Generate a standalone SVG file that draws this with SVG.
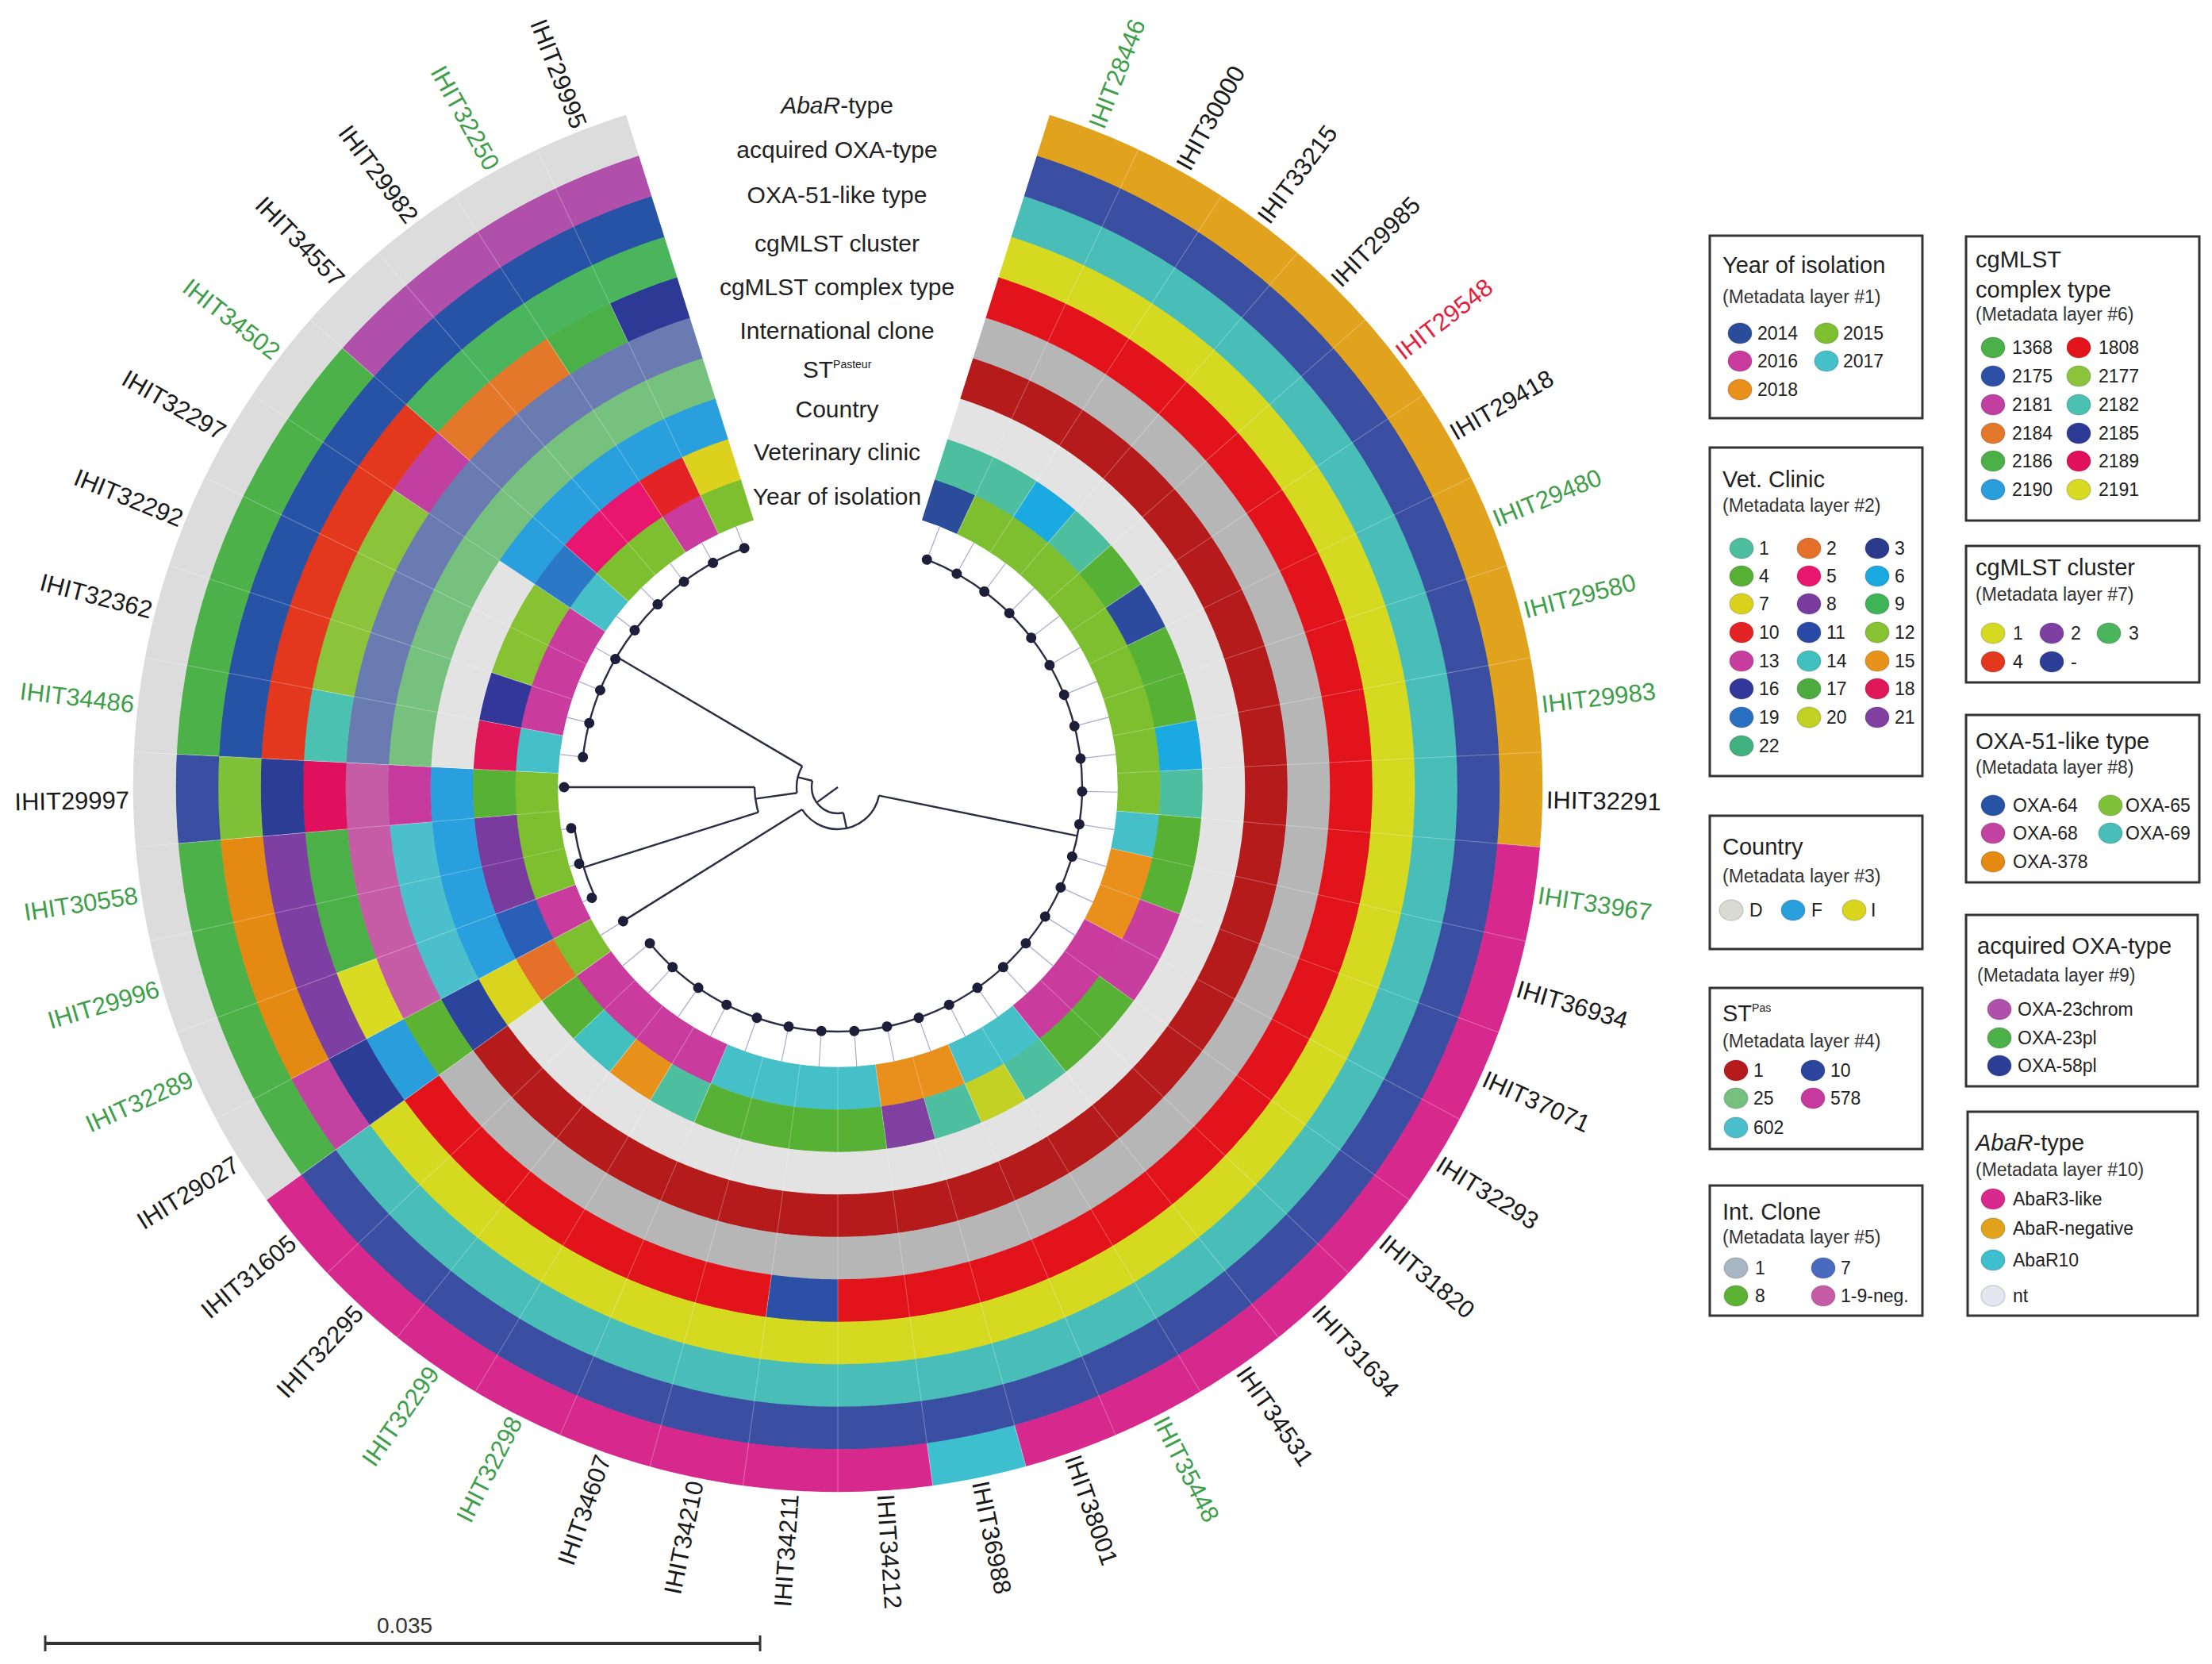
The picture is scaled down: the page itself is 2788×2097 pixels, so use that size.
<svg xmlns="http://www.w3.org/2000/svg" width="2788" height="2097" viewBox="0 0 2788 2097">
<style>
text{font-family:"Liberation Sans",Arial,sans-serif}
.ring circle{fill:none;stroke-width:54}
.sep line{stroke:#fff;stroke-opacity:.3;stroke-width:1}
.tr{fill:none;stroke:#2B2D45;stroke-width:2.4}
.lf line{stroke:#A9A9CF;stroke-width:1.2}
.lf circle{fill:#1D1E3A}
.lab text{font-size:31px;fill:#1A1A1A}
.lab text.g{fill:#3E9E4A}
.lab text.r{fill:#E3213D}
.lab text.e{text-anchor:end}
.ll{font-size:30px;fill:#222;text-anchor:middle}
.box{fill:#fff;stroke:#333;stroke-width:3}
.lt{font-size:29px;fill:#222}
.ls{font-size:23px;fill:#333}
.li{font-size:23px;fill:#222}
.lg ellipse{stroke:#000;stroke-opacity:.15;stroke-width:1.5}
</style>
<rect width="2788" height="2097" fill="#fff"/>

<g id="rings" class="ring" transform="translate(1056 992) rotate(-90)">
<g id="ring-year">
<circle r="379.75" pathLength="360" stroke="#2B4C9B" stroke-dasharray="7.74 720" stroke-dashoffset="-17.5"/>
<circle r="379.75" pathLength="360" stroke="#7DBF2F" stroke-dasharray="69.64 720" stroke-dashoffset="-25.24"/>
<circle r="379.75" pathLength="360" stroke="#45C0C8" stroke-dasharray="7.74 720" stroke-dashoffset="-94.88"/>
<circle r="379.75" pathLength="360" stroke="#E88F1C" stroke-dasharray="15.48 720" stroke-dashoffset="-102.62"/>
<circle r="379.75" pathLength="360" stroke="#C93C9E" stroke-dasharray="23.21 720" stroke-dashoffset="-118.1"/>
<circle r="379.75" pathLength="360" stroke="#45C0C8" stroke-dasharray="15.48 720" stroke-dashoffset="-141.31"/>
<circle r="379.75" pathLength="360" stroke="#E88F1C" stroke-dasharray="15.48 720" stroke-dashoffset="-156.79"/>
<circle r="379.75" pathLength="360" stroke="#45C0C8" stroke-dasharray="30.95 720" stroke-dashoffset="-172.26"/>
<circle r="379.75" pathLength="360" stroke="#C93C9E" stroke-dasharray="30.95 720" stroke-dashoffset="-203.21"/>
<circle r="379.75" pathLength="360" stroke="#7DBF2F" stroke-dasharray="7.74 720" stroke-dashoffset="-234.17"/>
<circle r="379.75" pathLength="360" stroke="#C93C9E" stroke-dasharray="7.74 720" stroke-dashoffset="-241.9"/>
<circle r="379.75" pathLength="360" stroke="#7DBF2F" stroke-dasharray="23.21 720" stroke-dashoffset="-249.64"/>
<circle r="379.75" pathLength="360" stroke="#45C0C8" stroke-dasharray="7.74 720" stroke-dashoffset="-272.86"/>
<circle r="379.75" pathLength="360" stroke="#C93C9E" stroke-dasharray="23.21 720" stroke-dashoffset="-280.6"/>
<circle r="379.75" pathLength="360" stroke="#45C0C8" stroke-dasharray="7.74 720" stroke-dashoffset="-303.81"/>
<circle r="379.75" pathLength="360" stroke="#7DBF2F" stroke-dasharray="15.48 720" stroke-dashoffset="-311.55"/>
<circle r="379.75" pathLength="360" stroke="#C93C9E" stroke-dasharray="7.74 720" stroke-dashoffset="-327.02"/>
<circle r="379.75" pathLength="360" stroke="#7DBF2F" stroke-dasharray="7.74 720" stroke-dashoffset="-334.76"/>
</g>
<g id="ring-vet">
<circle r="433.25" pathLength="360" stroke="#4DBE9E" stroke-dasharray="15.48 720" stroke-dashoffset="-17.5"/>
<circle r="433.25" pathLength="360" stroke="#1BA9E2" stroke-dasharray="7.74 720" stroke-dashoffset="-32.98"/>
<circle r="433.25" pathLength="360" stroke="#4DBE9E" stroke-dasharray="7.74 720" stroke-dashoffset="-40.71"/>
<circle r="433.25" pathLength="360" stroke="#56B134" stroke-dasharray="7.74 720" stroke-dashoffset="-48.45"/>
<circle r="433.25" pathLength="360" stroke="#2C4A9E" stroke-dasharray="7.74 720" stroke-dashoffset="-56.19"/>
<circle r="433.25" pathLength="360" stroke="#56B134" stroke-dasharray="15.48 720" stroke-dashoffset="-63.93"/>
<circle r="433.25" pathLength="360" stroke="#1BA9E2" stroke-dasharray="7.74 720" stroke-dashoffset="-79.4"/>
<circle r="433.25" pathLength="360" stroke="#4DBE9E" stroke-dasharray="7.74 720" stroke-dashoffset="-87.14"/>
<circle r="433.25" pathLength="360" stroke="#56B134" stroke-dasharray="15.48 720" stroke-dashoffset="-94.88"/>
<circle r="433.25" pathLength="360" stroke="#C73E9E" stroke-dasharray="15.48 720" stroke-dashoffset="-110.36"/>
<circle r="433.25" pathLength="360" stroke="#56B134" stroke-dasharray="15.48 720" stroke-dashoffset="-125.83"/>
<circle r="433.25" pathLength="360" stroke="#4DBE9E" stroke-dasharray="7.74 720" stroke-dashoffset="-141.31"/>
<circle r="433.25" pathLength="360" stroke="#C2D123" stroke-dasharray="7.74 720" stroke-dashoffset="-149.05"/>
<circle r="433.25" pathLength="360" stroke="#4DBE9E" stroke-dasharray="7.74 720" stroke-dashoffset="-156.79"/>
<circle r="433.25" pathLength="360" stroke="#8040A0" stroke-dasharray="7.74 720" stroke-dashoffset="-164.52"/>
<circle r="433.25" pathLength="360" stroke="#56B134" stroke-dasharray="30.95 720" stroke-dashoffset="-172.26"/>
<circle r="433.25" pathLength="360" stroke="#4DBE9E" stroke-dasharray="7.74 720" stroke-dashoffset="-203.21"/>
<circle r="433.25" pathLength="360" stroke="#E8921C" stroke-dasharray="7.74 720" stroke-dashoffset="-210.95"/>
<circle r="433.25" pathLength="360" stroke="#42C0C0" stroke-dasharray="7.74 720" stroke-dashoffset="-218.69"/>
<circle r="433.25" pathLength="360" stroke="#56B134" stroke-dasharray="7.74 720" stroke-dashoffset="-226.43"/>
<circle r="433.25" pathLength="360" stroke="#E4702A" stroke-dasharray="7.74 720" stroke-dashoffset="-234.17"/>
<circle r="433.25" pathLength="360" stroke="#2A5FB8" stroke-dasharray="7.74 720" stroke-dashoffset="-241.9"/>
<circle r="433.25" pathLength="360" stroke="#7A3B9F" stroke-dasharray="15.48 720" stroke-dashoffset="-249.64"/>
<circle r="433.25" pathLength="360" stroke="#56B134" stroke-dasharray="7.74 720" stroke-dashoffset="-265.12"/>
<circle r="433.25" pathLength="360" stroke="#E0185A" stroke-dasharray="7.74 720" stroke-dashoffset="-272.86"/>
<circle r="433.25" pathLength="360" stroke="#33379A" stroke-dasharray="7.74 720" stroke-dashoffset="-280.6"/>
<circle r="433.25" pathLength="360" stroke="#86C232" stroke-dasharray="15.48 720" stroke-dashoffset="-288.33"/>
<circle r="433.25" pathLength="360" stroke="#2A78C6" stroke-dasharray="7.74 720" stroke-dashoffset="-303.81"/>
<circle r="433.25" pathLength="360" stroke="#E8166E" stroke-dasharray="15.48 720" stroke-dashoffset="-311.55"/>
<circle r="433.25" pathLength="360" stroke="#E42424" stroke-dasharray="7.74 720" stroke-dashoffset="-327.02"/>
<circle r="433.25" pathLength="360" stroke="#DCD21E" stroke-dasharray="7.74 720" stroke-dashoffset="-334.76"/>
</g>
<g id="ring-country">
<circle r="486.75" pathLength="360" stroke="#E3E3E3" stroke-dasharray="216.67 720" stroke-dashoffset="-17.5"/>
<circle r="486.75" pathLength="360" stroke="#D9D51F" stroke-dasharray="7.74 720" stroke-dashoffset="-234.17"/>
<circle r="486.75" pathLength="360" stroke="#2A9FDD" stroke-dasharray="30.95 720" stroke-dashoffset="-241.9"/>
<circle r="486.75" pathLength="360" stroke="#E3E3E3" stroke-dasharray="30.95 720" stroke-dashoffset="-272.86"/>
<circle r="486.75" pathLength="360" stroke="#2A9FDD" stroke-dasharray="38.69 720" stroke-dashoffset="-303.81"/>
</g>
<g id="ring-st">
<circle r="540.25" pathLength="360" stroke="#B51B1B" stroke-dasharray="216.67 720" stroke-dashoffset="-17.5"/>
<circle r="540.25" pathLength="360" stroke="#2A459B" stroke-dasharray="7.74 720" stroke-dashoffset="-234.17"/>
<circle r="540.25" pathLength="360" stroke="#4BBFCB" stroke-dasharray="23.21 720" stroke-dashoffset="-241.9"/>
<circle r="540.25" pathLength="360" stroke="#C63A9D" stroke-dasharray="7.74 720" stroke-dashoffset="-265.12"/>
<circle r="540.25" pathLength="360" stroke="#76C17E" stroke-dasharray="69.64 720" stroke-dashoffset="-272.86"/>
</g>
<g id="ring-ic">
<circle r="593.75" pathLength="360" stroke="#B6B6B6" stroke-dasharray="216.67 720" stroke-dashoffset="-17.5"/>
<circle r="593.75" pathLength="360" stroke="#5BB233" stroke-dasharray="7.74 720" stroke-dashoffset="-234.17"/>
<circle r="593.75" pathLength="360" stroke="#C65CA6" stroke-dasharray="30.95 720" stroke-dashoffset="-241.9"/>
<circle r="593.75" pathLength="360" stroke="#6A7BB2" stroke-dasharray="69.64 720" stroke-dashoffset="-272.86"/>
</g>
<g id="ring-complex">
<circle r="647.25" pathLength="360" stroke="#E3131B" stroke-dasharray="162.5 720" stroke-dashoffset="-17.5"/>
<circle r="647.25" pathLength="360" stroke="#2B50A6" stroke-dasharray="7.74 720" stroke-dashoffset="-180"/>
<circle r="647.25" pathLength="360" stroke="#E3131B" stroke-dasharray="46.43 720" stroke-dashoffset="-187.74"/>
<circle r="647.25" pathLength="360" stroke="#2A9EDB" stroke-dasharray="7.74 720" stroke-dashoffset="-234.17"/>
<circle r="647.25" pathLength="360" stroke="#D8DB22" stroke-dasharray="7.74 720" stroke-dashoffset="-241.9"/>
<circle r="647.25" pathLength="360" stroke="#4CB048" stroke-dasharray="15.48 720" stroke-dashoffset="-249.64"/>
<circle r="647.25" pathLength="360" stroke="#E0105C" stroke-dasharray="7.74 720" stroke-dashoffset="-265.12"/>
<circle r="647.25" pathLength="360" stroke="#4BC1B1" stroke-dasharray="7.74 720" stroke-dashoffset="-272.86"/>
<circle r="647.25" pathLength="360" stroke="#8BC33A" stroke-dasharray="23.21 720" stroke-dashoffset="-280.6"/>
<circle r="647.25" pathLength="360" stroke="#C13FA0" stroke-dasharray="7.74 720" stroke-dashoffset="-303.81"/>
<circle r="647.25" pathLength="360" stroke="#E4782A" stroke-dasharray="15.48 720" stroke-dashoffset="-311.55"/>
<circle r="647.25" pathLength="360" stroke="#4CB048" stroke-dasharray="7.74 720" stroke-dashoffset="-327.02"/>
<circle r="647.25" pathLength="360" stroke="#2C3A96" stroke-dasharray="7.74 720" stroke-dashoffset="-334.76"/>
</g>
<g id="ring-cluster">
<circle r="700.75" pathLength="360" stroke="#D5D91F" stroke-dasharray="216.67 720" stroke-dashoffset="-17.5"/>
<circle r="700.75" pathLength="360" stroke="#2C3D96" stroke-dasharray="7.74 720" stroke-dashoffset="-234.17"/>
<circle r="700.75" pathLength="360" stroke="#7E3FA3" stroke-dasharray="23.21 720" stroke-dashoffset="-241.9"/>
<circle r="700.75" pathLength="360" stroke="#2C3D96" stroke-dasharray="7.74 720" stroke-dashoffset="-265.12"/>
<circle r="700.75" pathLength="360" stroke="#E4381E" stroke-dasharray="38.69 720" stroke-dashoffset="-272.86"/>
<circle r="700.75" pathLength="360" stroke="#4AB55C" stroke-dasharray="30.95 720" stroke-dashoffset="-311.55"/>
</g>
<g id="ring-oxa51">
<circle r="754.25" pathLength="360" stroke="#49BEB8" stroke-dasharray="216.67 720" stroke-dashoffset="-17.5"/>
<circle r="754.25" pathLength="360" stroke="#C142A1" stroke-dasharray="7.74 720" stroke-dashoffset="-234.17"/>
<circle r="754.25" pathLength="360" stroke="#E48A12" stroke-dasharray="23.21 720" stroke-dashoffset="-241.9"/>
<circle r="754.25" pathLength="360" stroke="#80C13A" stroke-dasharray="7.74 720" stroke-dashoffset="-265.12"/>
<circle r="754.25" pathLength="360" stroke="#2753A6" stroke-dasharray="69.64 720" stroke-dashoffset="-272.86"/>
</g>
<g id="ring-acq">
<circle r="807.75" pathLength="360" stroke="#3A4FA1" stroke-dasharray="216.67 720" stroke-dashoffset="-17.5"/>
<circle r="807.75" pathLength="360" stroke="#4DB14A" stroke-dasharray="30.95 720" stroke-dashoffset="-234.17"/>
<circle r="807.75" pathLength="360" stroke="#3A4FA1" stroke-dasharray="7.74 720" stroke-dashoffset="-265.12"/>
<circle r="807.75" pathLength="360" stroke="#4DB14A" stroke-dasharray="38.69 720" stroke-dashoffset="-272.86"/>
<circle r="807.75" pathLength="360" stroke="#B050AA" stroke-dasharray="30.95 720" stroke-dashoffset="-311.55"/>
</g>
<g id="ring-abar">
<circle r="861.25" pathLength="360" stroke="#E1A21D" stroke-dasharray="77.38 720" stroke-dashoffset="-17.5"/>
<circle r="861.25" pathLength="360" stroke="#D7298D" stroke-dasharray="69.64 720" stroke-dashoffset="-94.88"/>
<circle r="861.25" pathLength="360" stroke="#3DBFD0" stroke-dasharray="7.74 720" stroke-dashoffset="-164.52"/>
<circle r="861.25" pathLength="360" stroke="#D7298D" stroke-dasharray="61.9 720" stroke-dashoffset="-172.26"/>
<circle r="861.25" pathLength="360" stroke="#DCDCDC" stroke-dasharray="108.33 720" stroke-dashoffset="-234.17"/>
</g>
<g class="sep">
<line x1="353" x2="888" transform="rotate(25.24)"/><line x1="353" x2="888" transform="rotate(32.98)"/><line x1="353" x2="888" transform="rotate(40.71)"/><line x1="353" x2="888" transform="rotate(48.45)"/><line x1="353" x2="888" transform="rotate(56.19)"/><line x1="353" x2="888" transform="rotate(63.93)"/><line x1="353" x2="888" transform="rotate(71.67)"/><line x1="353" x2="888" transform="rotate(79.4)"/><line x1="353" x2="888" transform="rotate(87.14)"/><line x1="353" x2="888" transform="rotate(94.88)"/><line x1="353" x2="888" transform="rotate(102.62)"/><line x1="353" x2="888" transform="rotate(110.36)"/><line x1="353" x2="888" transform="rotate(118.1)"/><line x1="353" x2="888" transform="rotate(125.83)"/><line x1="353" x2="888" transform="rotate(133.57)"/><line x1="353" x2="888" transform="rotate(141.31)"/><line x1="353" x2="888" transform="rotate(149.05)"/><line x1="353" x2="888" transform="rotate(156.79)"/><line x1="353" x2="888" transform="rotate(164.52)"/><line x1="353" x2="888" transform="rotate(172.26)"/><line x1="353" x2="888" transform="rotate(180)"/><line x1="353" x2="888" transform="rotate(187.74)"/><line x1="353" x2="888" transform="rotate(195.48)"/><line x1="353" x2="888" transform="rotate(203.21)"/><line x1="353" x2="888" transform="rotate(210.95)"/><line x1="353" x2="888" transform="rotate(218.69)"/><line x1="353" x2="888" transform="rotate(226.43)"/><line x1="353" x2="888" transform="rotate(234.17)"/><line x1="353" x2="888" transform="rotate(241.9)"/><line x1="353" x2="888" transform="rotate(249.64)"/><line x1="353" x2="888" transform="rotate(257.38)"/><line x1="353" x2="888" transform="rotate(265.12)"/><line x1="353" x2="888" transform="rotate(272.86)"/><line x1="353" x2="888" transform="rotate(280.6)"/><line x1="353" x2="888" transform="rotate(288.33)"/><line x1="353" x2="888" transform="rotate(296.07)"/><line x1="353" x2="888" transform="rotate(303.81)"/><line x1="353" x2="888" transform="rotate(311.55)"/><line x1="353" x2="888" transform="rotate(319.29)"/><line x1="353" x2="888" transform="rotate(327.02)"/><line x1="353" x2="888" transform="rotate(334.76)"/>
</g>
</g>

<g id="tree" transform="translate(1056 992) rotate(-90)">
<g class="tr">
<circle r="308" pathLength="360" stroke-dasharray="208.93 720" stroke-dashoffset="-21.37"/>
<circle r="323.5" pathLength="360" stroke-dasharray="61.9 720" stroke-dashoffset="-276.73"/>
<circle r="336" pathLength="360" stroke-dasharray="15.48 720" stroke-dashoffset="-245.77"/>
<circle r="105" pathLength="360" stroke-dasharray="17.5 720" stroke-dashoffset="-252.5"/>
<circle r="53" pathLength="360" stroke-dasharray="136.5 720" stroke-dashoffset="-101.5"/>
<circle r="52" pathLength="360" stroke-dasharray="38.5 720" stroke-dashoffset="-262"/>
<circle r="33" pathLength="360" stroke-dasharray="116 720" stroke-dashoffset="-168"/>
<line x1="53" x2="308" transform="rotate(101.5)"/>
<line x1="52" x2="323.5" transform="rotate(300.5)"/>
<line x1="105" x2="345" transform="rotate(270)"/>
<line x1="105" x2="336" transform="rotate(252.5)"/>
<line x1="52" x2="105" transform="rotate(262)"/>
<line x1="53" x2="319" transform="rotate(238.036)"/>
<line x1="0" x2="33" transform="rotate(234)"/>
<line x1="33" x2="53" transform="rotate(168)"/>
<line x1="33" x2="52" transform="rotate(284)"/>
<line x1="336" x2="340" transform="rotate(245.774)"/>
<line x1="336" x2="340" transform="rotate(253.512)"/>
<line x1="336" x2="340" transform="rotate(261.25)"/>
<line x1="345" x2="345" transform="rotate(270)"/>
</g>
<g class="lf">
<g transform="rotate(21.369)"><line x1="308" x2="353"/><circle cx="308" r="6.5"/></g>
<g transform="rotate(29.107)"><line x1="308" x2="353"/><circle cx="308" r="6.5"/></g>
<g transform="rotate(36.845)"><line x1="308" x2="353"/><circle cx="308" r="6.5"/></g>
<g transform="rotate(44.583)"><line x1="308" x2="353"/><circle cx="308" r="6.5"/></g>
<g transform="rotate(52.321)"><line x1="308" x2="353"/><circle cx="308" r="6.5"/></g>
<g transform="rotate(60.06)"><line x1="308" x2="353"/><circle cx="308" r="6.5"/></g>
<g transform="rotate(67.798)"><line x1="308" x2="353"/><circle cx="308" r="6.5"/></g>
<g transform="rotate(75.536)"><line x1="308" x2="353"/><circle cx="308" r="6.5"/></g>
<g transform="rotate(83.274)"><line x1="308" x2="353"/><circle cx="308" r="6.5"/></g>
<g transform="rotate(91.012)"><line x1="308" x2="353"/><circle cx="308" r="6.5"/></g>
<g transform="rotate(98.75)"><line x1="308" x2="353"/><circle cx="308" r="6.5"/></g>
<g transform="rotate(106.488)"><line x1="308" x2="353"/><circle cx="308" r="6.5"/></g>
<g transform="rotate(114.226)"><line x1="308" x2="353"/><circle cx="308" r="6.5"/></g>
<g transform="rotate(121.964)"><line x1="308" x2="353"/><circle cx="308" r="6.5"/></g>
<g transform="rotate(129.702)"><line x1="308" x2="353"/><circle cx="308" r="6.5"/></g>
<g transform="rotate(137.44)"><line x1="308" x2="353"/><circle cx="308" r="6.5"/></g>
<g transform="rotate(145.179)"><line x1="308" x2="353"/><circle cx="308" r="6.5"/></g>
<g transform="rotate(152.917)"><line x1="308" x2="353"/><circle cx="308" r="6.5"/></g>
<g transform="rotate(160.655)"><line x1="308" x2="353"/><circle cx="308" r="6.5"/></g>
<g transform="rotate(168.393)"><line x1="308" x2="353"/><circle cx="308" r="6.5"/></g>
<g transform="rotate(176.131)"><line x1="308" x2="353"/><circle cx="308" r="6.5"/></g>
<g transform="rotate(183.869)"><line x1="308" x2="353"/><circle cx="308" r="6.5"/></g>
<g transform="rotate(191.607)"><line x1="308" x2="353"/><circle cx="308" r="6.5"/></g>
<g transform="rotate(199.345)"><line x1="308" x2="353"/><circle cx="308" r="6.5"/></g>
<g transform="rotate(207.083)"><line x1="308" x2="353"/><circle cx="308" r="6.5"/></g>
<g transform="rotate(214.821)"><line x1="308" x2="353"/><circle cx="308" r="6.5"/></g>
<g transform="rotate(222.56)"><line x1="308" x2="353"/><circle cx="308" r="6.5"/></g>
<g transform="rotate(230.298)"><line x1="308" x2="353"/><circle cx="308" r="6.5"/></g>
<g transform="rotate(238.036)"><line x1="319" x2="353"/><circle cx="319" r="6.5"/></g>
<g transform="rotate(245.774)"><line x1="340" x2="353"/><circle cx="340" r="6.5"/></g>
<g transform="rotate(253.512)"><line x1="340" x2="353"/><circle cx="340" r="6.5"/></g>
<g transform="rotate(261.25)"><line x1="340" x2="353"/><circle cx="340" r="6.5"/></g>
<g transform="rotate(270)"><line x1="345" x2="353"/><circle cx="345" r="6.5"/></g>
<g transform="rotate(276.726)"><line x1="323.5" x2="353"/><circle cx="323.5" r="6.5"/></g>
<g transform="rotate(284.464)"><line x1="323.5" x2="353"/><circle cx="323.5" r="6.5"/></g>
<g transform="rotate(292.202)"><line x1="323.5" x2="353"/><circle cx="323.5" r="6.5"/></g>
<g transform="rotate(299.94)"><line x1="323.5" x2="353"/><circle cx="323.5" r="6.5"/></g>
<g transform="rotate(307.679)"><line x1="323.5" x2="353"/><circle cx="323.5" r="6.5"/></g>
<g transform="rotate(315.417)"><line x1="323.5" x2="353"/><circle cx="323.5" r="6.5"/></g>
<g transform="rotate(323.155)"><line x1="323.5" x2="353"/><circle cx="323.5" r="6.5"/></g>
<g transform="rotate(330.893)"><line x1="323.5" x2="353"/><circle cx="323.5" r="6.5"/></g>
<g transform="rotate(338.631)"><line x1="323.5" x2="353"/><circle cx="323.5" r="6.5"/></g>
</g>
</g>

<g id="leaf-labels" class="lab" transform="translate(1056 992) rotate(-90)">
<text class="g" dy="0.35em" transform="rotate(21.369) translate(893 0)">IHIT28446</text>
<text dy="0.35em" transform="rotate(29.107) translate(893 0)">IHIT30000</text>
<text dy="0.35em" transform="rotate(36.845) translate(893 0)">IHIT33215</text>
<text dy="0.35em" transform="rotate(44.583) translate(893 0)">IHIT29985</text>
<text class="r" dy="0.35em" transform="rotate(52.321) translate(893 0)">IHIT29548</text>
<text dy="0.35em" transform="rotate(60.06) translate(893 0)">IHIT29418</text>
<text class="g" dy="0.35em" transform="rotate(67.798) translate(893 0)">IHIT29480</text>
<text class="g" dy="0.35em" transform="rotate(75.536) translate(893 0)">IHIT29580</text>
<text class="g" dy="0.35em" transform="rotate(83.274) translate(893 0)">IHIT29983</text>
<text dy="0.35em" transform="rotate(91.012) translate(893 0)">IHIT32291</text>
<text class="g" dy="0.35em" transform="rotate(98.75) translate(893 0)">IHIT33967</text>
<text dy="0.35em" transform="rotate(106.488) translate(893 0)">IHIT36934</text>
<text dy="0.35em" transform="rotate(114.226) translate(893 0)">IHIT37071</text>
<text dy="0.35em" transform="rotate(121.964) translate(893 0)">IHIT32293</text>
<text dy="0.35em" transform="rotate(129.702) translate(893 0)">IHIT31820</text>
<text dy="0.35em" transform="rotate(137.44) translate(893 0)">IHIT31634</text>
<text dy="0.35em" transform="rotate(145.179) translate(893 0)">IHIT34531</text>
<text class="g" dy="0.35em" transform="rotate(152.917) translate(893 0)">IHIT35448</text>
<text dy="0.35em" transform="rotate(160.655) translate(893 0)">IHIT38001</text>
<text dy="0.35em" transform="rotate(168.393) translate(893 0)">IHIT36988</text>
<text dy="0.35em" transform="rotate(176.131) translate(893 0)">IHIT34212</text>
<text class="e" dy="0.35em" transform="rotate(183.869) translate(893 0) rotate(180)">IHIT34211</text>
<text class="e" dy="0.35em" transform="rotate(191.607) translate(893 0) rotate(180)">IHIT34210</text>
<text class="e" dy="0.35em" transform="rotate(199.345) translate(893 0) rotate(180)">IHIT34607</text>
<text class="g e" dy="0.35em" transform="rotate(207.083) translate(893 0) rotate(180)">IHIT32298</text>
<text class="g e" dy="0.35em" transform="rotate(214.821) translate(893 0) rotate(180)">IHIT32299</text>
<text class="e" dy="0.35em" transform="rotate(222.56) translate(893 0) rotate(180)">IHIT32295</text>
<text class="e" dy="0.35em" transform="rotate(230.298) translate(893 0) rotate(180)">IHIT31605</text>
<text class="e" dy="0.35em" transform="rotate(238.036) translate(893 0) rotate(180)">IHIT29027</text>
<text class="g e" dy="0.35em" transform="rotate(245.774) translate(893 0) rotate(180)">IHIT32289</text>
<text class="g e" dy="0.35em" transform="rotate(253.512) translate(893 0) rotate(180)">IHIT29996</text>
<text class="g e" dy="0.35em" transform="rotate(261.25) translate(893 0) rotate(180)">IHIT30558</text>
<text class="e" dy="0.35em" transform="rotate(268.988) translate(893 0) rotate(180)">IHIT29997</text>
<text class="g e" dy="0.35em" transform="rotate(276.726) translate(893 0) rotate(180)">IHIT34486</text>
<text class="e" dy="0.35em" transform="rotate(284.464) translate(893 0) rotate(180)">IHIT32362</text>
<text class="e" dy="0.35em" transform="rotate(292.202) translate(893 0) rotate(180)">IHIT32292</text>
<text class="e" dy="0.35em" transform="rotate(299.94) translate(893 0) rotate(180)">IHIT32297</text>
<text class="g e" dy="0.35em" transform="rotate(307.679) translate(893 0) rotate(180)">IHIT34502</text>
<text class="e" dy="0.35em" transform="rotate(315.417) translate(893 0) rotate(180)">IHIT34557</text>
<text class="e" dy="0.35em" transform="rotate(323.155) translate(893 0) rotate(180)">IHIT29982</text>
<text class="g e" dy="0.35em" transform="rotate(330.893) translate(893 0) rotate(180)">IHIT32250</text>
<text class="e" dy="0.35em" transform="rotate(338.631) translate(893 0) rotate(180)">IHIT29995</text>
</g>

<g id="layer-labels">
<text class="ll" x="1055" y="143"><tspan font-style="italic">AbaR</tspan>-type</text>
<text class="ll" x="1055" y="199">acquired OXA-type</text>
<text class="ll" x="1055" y="256">OXA-51-like type</text>
<text class="ll" x="1055" y="317">cgMLST cluster</text>
<text class="ll" x="1055" y="372">cgMLST complex type</text>
<text class="ll" x="1055" y="427">International clone</text>
<text class="ll" x="1055" y="476">ST<tspan font-size="14" dy="-12">Pasteur</tspan></text>
<text class="ll" x="1055" y="526">Country</text>
<text class="ll" x="1055" y="580">Veterinary clinic</text>
<text class="ll" x="1055" y="636">Year of isolation</text>
</g>

<g id="legend-year" class="lg">
<rect class="box" x="2155" y="297" width="268" height="230"/>
<text class="lt" x="2171" y="344">Year of isolation</text>
<text class="ls" x="2171" y="382">(Metadata layer #1)</text>
<ellipse cx="2193" cy="420" rx="15" ry="13" fill="#2B4C9B"/><text class="li" x="2215" y="428">2014</text>
<ellipse cx="2302" cy="420" rx="15" ry="13" fill="#7DBF2F"/><text class="li" x="2323" y="428">2015</text>
<ellipse cx="2193" cy="455" rx="15" ry="13" fill="#C93C9E"/><text class="li" x="2215" y="463">2016</text>
<ellipse cx="2302" cy="455" rx="15" ry="13" fill="#45C0C8"/><text class="li" x="2323" y="463">2017</text>
<ellipse cx="2193" cy="491" rx="15" ry="13" fill="#E88F1C"/><text class="li" x="2215" y="499">2018</text>
</g>

<g id="legend-vet" class="lg">
<rect class="box" x="2155" y="564" width="268" height="414"/>
<text class="lt" x="2171" y="614">Vet. Clinic</text>
<text class="ls" x="2171" y="645">(Metadata layer #2)</text>
<ellipse cx="2195" cy="691" rx="15" ry="13" fill="#4DBE9E"/><text class="li" x="2217" y="699">1</text>
<ellipse cx="2280" cy="691" rx="15" ry="13" fill="#E4702A"/><text class="li" x="2302" y="699">2</text>
<ellipse cx="2366" cy="691" rx="15" ry="13" fill="#2C3A8E"/><text class="li" x="2388" y="699">3</text>
<ellipse cx="2195" cy="726" rx="15" ry="13" fill="#56B134"/><text class="li" x="2217" y="734">4</text>
<ellipse cx="2280" cy="726" rx="15" ry="13" fill="#E8166E"/><text class="li" x="2302" y="734">5</text>
<ellipse cx="2366" cy="726" rx="15" ry="13" fill="#1BA9E2"/><text class="li" x="2388" y="734">6</text>
<ellipse cx="2195" cy="761" rx="15" ry="13" fill="#DCD21E"/><text class="li" x="2217" y="769">7</text>
<ellipse cx="2280" cy="761" rx="15" ry="13" fill="#7A3B9F"/><text class="li" x="2302" y="769">8</text>
<ellipse cx="2366" cy="761" rx="15" ry="13" fill="#3EB457"/><text class="li" x="2388" y="769">9</text>
<ellipse cx="2195" cy="797" rx="15" ry="13" fill="#E42424"/><text class="li" x="2217" y="805">10</text>
<ellipse cx="2280" cy="797" rx="15" ry="13" fill="#2A4AA8"/><text class="li" x="2302" y="805">11</text>
<ellipse cx="2366" cy="797" rx="15" ry="13" fill="#86C232"/><text class="li" x="2388" y="805">12</text>
<ellipse cx="2195" cy="833" rx="15" ry="13" fill="#C73E9E"/><text class="li" x="2217" y="841">13</text>
<ellipse cx="2280" cy="833" rx="15" ry="13" fill="#42C0C0"/><text class="li" x="2302" y="841">14</text>
<ellipse cx="2366" cy="833" rx="15" ry="13" fill="#E8921C"/><text class="li" x="2388" y="841">15</text>
<ellipse cx="2195" cy="868" rx="15" ry="13" fill="#33379A"/><text class="li" x="2217" y="876">16</text>
<ellipse cx="2280" cy="868" rx="15" ry="13" fill="#4CAC3E"/><text class="li" x="2302" y="876">17</text>
<ellipse cx="2366" cy="868" rx="15" ry="13" fill="#E0185A"/><text class="li" x="2388" y="876">18</text>
<ellipse cx="2195" cy="904" rx="15" ry="13" fill="#2A70C0"/><text class="li" x="2217" y="912">19</text>
<ellipse cx="2280" cy="904" rx="15" ry="13" fill="#C2D123"/><text class="li" x="2302" y="912">20</text>
<ellipse cx="2366" cy="904" rx="15" ry="13" fill="#8040A0"/><text class="li" x="2388" y="912">21</text>
<ellipse cx="2195" cy="940" rx="15" ry="13" fill="#40B07E"/><text class="li" x="2217" y="948">22</text>
</g>

<g id="legend-country" class="lg">
<rect class="box" x="2155" y="1028" width="268" height="168"/>
<text class="lt" x="2171" y="1077">Country</text>
<text class="ls" x="2171" y="1112">(Metadata layer #3)</text>
<ellipse cx="2182" cy="1147" rx="15" ry="13" fill="#DADAD4" stroke="#B8C090" stroke-opacity="1"/><text class="li" x="2205" y="1155">D</text>
<ellipse cx="2260" cy="1147" rx="15" ry="13" fill="#2A9FDD"/><text class="li" x="2283" y="1155">F</text>
<ellipse cx="2337" cy="1147" rx="15" ry="13" fill="#D9D51F"/><text class="li" x="2358" y="1155">I</text>
</g>

<g id="legend-st" class="lg">
<rect class="box" x="2155" y="1245" width="268" height="203"/>
<text class="lt" x="2171" y="1287">ST<tspan font-size="14" dy="-12">Pas</tspan></text>
<text class="ls" x="2171" y="1320">(Metadata layer #4)</text>
<ellipse cx="2188" cy="1349" rx="15" ry="13" fill="#B51B1B"/><text class="li" x="2210" y="1357">1</text>
<ellipse cx="2285" cy="1349" rx="15" ry="13" fill="#2A459B"/><text class="li" x="2307" y="1357">10</text>
<ellipse cx="2188" cy="1384" rx="15" ry="13" fill="#76C17E"/><text class="li" x="2210" y="1392">25</text>
<ellipse cx="2285" cy="1384" rx="15" ry="13" fill="#C63A9D"/><text class="li" x="2307" y="1392">578</text>
<ellipse cx="2188" cy="1421" rx="15" ry="13" fill="#4BBFCB"/><text class="li" x="2210" y="1429">602</text>
</g>

<g id="legend-ic" class="lg">
<rect class="box" x="2155" y="1494" width="268" height="164"/>
<text class="lt" x="2171" y="1537">Int. Clone</text>
<text class="ls" x="2171" y="1567">(Metadata layer #5)</text>
<ellipse cx="2188" cy="1598" rx="15" ry="13" fill="#A9B6C4"/><text class="li" x="2212" y="1606">1</text>
<ellipse cx="2298" cy="1598" rx="15" ry="13" fill="#4A6AC0"/><text class="li" x="2320" y="1606">7</text>
<ellipse cx="2188" cy="1633" rx="15" ry="13" fill="#5BB233"/><text class="li" x="2212" y="1641">8</text>
<ellipse cx="2298" cy="1633" rx="15" ry="13" fill="#C65CA6"/><text class="li" x="2320" y="1641">1-9-neg.</text>
</g>

<g id="legend-complex" class="lg">
<rect class="box" x="2478" y="298" width="294" height="358"/>
<text class="lt" x="2490" y="337">cgMLST</text>
<text class="lt" x="2490" y="375">complex type</text>
<text class="ls" x="2490" y="404">(Metadata layer #6)</text>
<ellipse cx="2512" cy="438" rx="15" ry="13" fill="#4CB048"/><text class="li" x="2536" y="446">1368</text>
<ellipse cx="2620" cy="438" rx="15" ry="13" fill="#E3131B"/><text class="li" x="2645" y="446">1808</text>
<ellipse cx="2512" cy="474" rx="15" ry="13" fill="#2B50A6"/><text class="li" x="2536" y="482">2175</text>
<ellipse cx="2620" cy="474" rx="15" ry="13" fill="#8BC33A"/><text class="li" x="2645" y="482">2177</text>
<ellipse cx="2512" cy="510" rx="15" ry="13" fill="#C13FA0"/><text class="li" x="2536" y="518">2181</text>
<ellipse cx="2620" cy="510" rx="15" ry="13" fill="#4BC1B1"/><text class="li" x="2645" y="518">2182</text>
<ellipse cx="2512" cy="546" rx="15" ry="13" fill="#E4782A"/><text class="li" x="2536" y="554">2184</text>
<ellipse cx="2620" cy="546" rx="15" ry="13" fill="#2C3A96"/><text class="li" x="2645" y="554">2185</text>
<ellipse cx="2512" cy="581" rx="15" ry="13" fill="#4CB048"/><text class="li" x="2536" y="589">2186</text>
<ellipse cx="2620" cy="581" rx="15" ry="13" fill="#E0105C"/><text class="li" x="2645" y="589">2189</text>
<ellipse cx="2512" cy="617" rx="15" ry="13" fill="#2A9EDB"/><text class="li" x="2536" y="625">2190</text>
<ellipse cx="2620" cy="617" rx="15" ry="13" fill="#D8DB22"/><text class="li" x="2645" y="625">2191</text>
</g>

<g id="legend-cluster" class="lg">
<rect class="box" x="2478" y="688" width="294" height="172"/>
<text class="lt" x="2490" y="725">cgMLST cluster</text>
<text class="ls" x="2490" y="757">(Metadata layer #7)</text>
<ellipse cx="2512" cy="798" rx="15" ry="13" fill="#D5D91F"/><text class="li" x="2537" y="806">1</text>
<ellipse cx="2586" cy="798" rx="15" ry="13" fill="#7E3FA3"/><text class="li" x="2610" y="806">2</text>
<ellipse cx="2658" cy="798" rx="15" ry="13" fill="#4AB55C"/><text class="li" x="2683" y="806">3</text>
<ellipse cx="2512" cy="834" rx="15" ry="13" fill="#E4381E"/><text class="li" x="2537" y="842">4</text>
<ellipse cx="2586" cy="834" rx="15" ry="13" fill="#2C3D96"/><text class="li" x="2610" y="842">-</text>
</g>

<g id="legend-oxa51" class="lg">
<rect class="box" x="2478" y="901" width="294" height="211"/>
<text class="lt" x="2490" y="944">OXA-51-like type</text>
<text class="ls" x="2490" y="975">(Metadata layer #8)</text>
<ellipse cx="2512" cy="1015" rx="15" ry="13" fill="#2753A6"/><text class="li" x="2537" y="1023">OXA-64</text>
<ellipse cx="2660" cy="1015" rx="15" ry="13" fill="#80C13A"/><text class="li" x="2679" y="1023">OXA-65</text>
<ellipse cx="2512" cy="1050" rx="15" ry="13" fill="#C142A1"/><text class="li" x="2537" y="1058">OXA-68</text>
<ellipse cx="2660" cy="1050" rx="15" ry="13" fill="#49BEB8"/><text class="li" x="2679" y="1058">OXA-69</text>
<ellipse cx="2512" cy="1086" rx="15" ry="13" fill="#E48A12"/><text class="li" x="2537" y="1094">OXA-378</text>
</g>

<g id="legend-acq" class="lg">
<rect class="box" x="2478" y="1153" width="292" height="216"/>
<text class="lt" x="2492" y="1202">acquired OXA-type</text>
<text class="ls" x="2492" y="1237">(Metadata layer #9)</text>
<ellipse cx="2520" cy="1272" rx="15" ry="13" fill="#B050AA"/><text class="li" x="2543" y="1280">OXA-23chrom</text>
<ellipse cx="2520" cy="1308" rx="15" ry="13" fill="#4DB14A"/><text class="li" x="2543" y="1316">OXA-23pl</text>
<ellipse cx="2520" cy="1343" rx="15" ry="13" fill="#2C3D96"/><text class="li" x="2543" y="1351">OXA-58pl</text>
</g>

<g id="legend-abar" class="lg">
<rect class="box" x="2480" y="1401" width="290" height="257"/>
<text class="lt" x="2490" y="1450"><tspan font-style="italic">AbaR</tspan>-type</text>
<text class="ls" x="2490" y="1482">(Metadata layer #10)</text>
<ellipse cx="2512" cy="1511" rx="15" ry="13" fill="#D7298D"/><text class="li" x="2537" y="1519">AbaR3-like</text>
<ellipse cx="2512" cy="1548" rx="15" ry="13" fill="#E1A21D"/><text class="li" x="2537" y="1556">AbaR-negative</text>
<ellipse cx="2512" cy="1588" rx="15" ry="13" fill="#3DBFD0"/><text class="li" x="2537" y="1596">AbaR10</text>
<ellipse cx="2512" cy="1633" rx="15" ry="13" fill="#E6E6F0" stroke="#8888A0" stroke-opacity="1"/><text class="li" x="2537" y="1641">nt</text>
</g>

<g id="scalebar" stroke="#333">
<line x1="57" y1="2071" x2="958" y2="2071" stroke-width="4"/>
<line x1="57" y1="2061" x2="57" y2="2081" stroke-width="3"/>
<line x1="958" y1="2061" x2="958" y2="2081" stroke-width="3"/>
<text x="510" y="2058" font-size="28" text-anchor="middle" fill="#333" stroke="none">0.035</text>
</g>
</svg>
